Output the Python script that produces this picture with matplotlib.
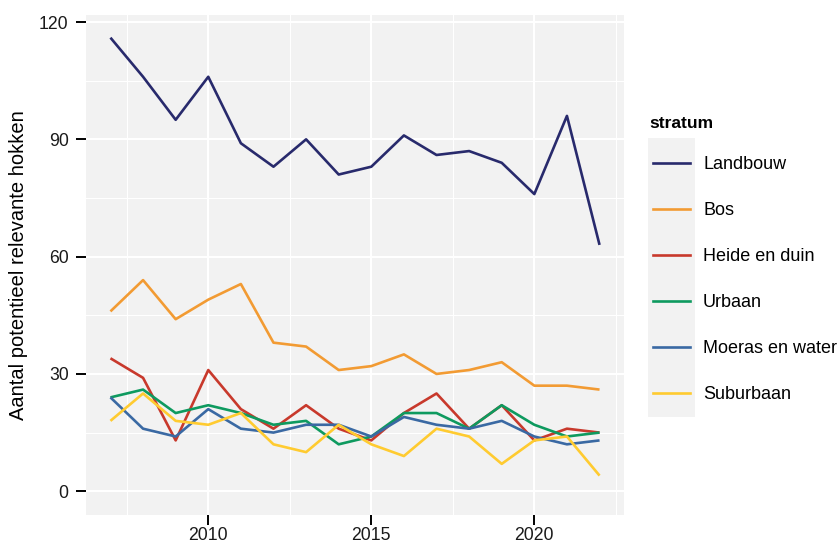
import matplotlib
matplotlib.use("Agg")
import matplotlib.pyplot as plt
from matplotlib.lines import Line2D
from matplotlib.patches import Rectangle
from matplotlib.ticker import MultipleLocator

plt.rcParams['font.family'] = ['Liberation Sans', 'DejaVu Sans']

years = list(range(2007, 2023))

landbouw = [116, 106, 95, 106, 89, 83, 90, 81, 83, 91, 86, 87, 84, 76, 96, 63]
bos = [46, 54, 44, 49, 53, 38, 37, 31, 32, 35, 30, 31, 33, 27, 27, 26]
heide = [34, 29, 13, 31, 21, 16, 22, 16, 13, 20, 25, 16, 22, 13, 16, 15]
urbaan = [24, 26, 20, 22, 20, 17, 18, 12, 14, 20, 20, 16, 22, 17, 14, 15]
moeras = [24, 16, 14, 21, 16, 15, 17, 17, 14, 19, 17, 16, 18, 14, 12, 13]
suburbaan = [18, 25, 18, 17, 20, 12, 10, 17, 12, 9, 16, 14, 7, 13, 14, 4]

names = ['Landbouw', 'Bos', 'Heide en duin', 'Urbaan', 'Moeras en water', 'Suburbaan']
series = [landbouw, bos, heide, urbaan, moeras, suburbaan]
colors = ['#282A6C', '#F29B33', '#C8392C', '#0E9A5F', '#3A69A3', '#FFCB30']

W, H = 838, 542
fig = plt.figure(figsize=(W / 100, H / 100), dpi=100)
ax = fig.add_axes([86 / W, 1 - 514.7 / H, (624 - 86) / W, (514.7 - 15) / H])
ax.set_facecolor('#F2F2F2')

for vals, col in zip(series, colors):
    ax.plot(years, vals, color=col, lw=1.9, solid_capstyle='butt', zorder=3)

ax.set_xlim(2006.25, 2022.75)
ax.set_ylim(-6.0, 121.8)
ax.xaxis.set_major_locator(MultipleLocator(5))
ax.xaxis.set_minor_locator(MultipleLocator(2.5))
ax.yaxis.set_major_locator(MultipleLocator(30))
ax.yaxis.set_minor_locator(MultipleLocator(15))
ax.grid(which='major', color='white', lw=1.5, zorder=1)
ax.grid(which='minor', color='white', lw=0.75, zorder=1)
ax.set_axisbelow(True)
for s in ax.spines.values():
    s.set_visible(False)
ax.tick_params(which='major', length=7.5, width=1.4, color='black',
               labelsize=12.7, labelcolor='#1a1a1a')
ax.tick_params(axis='y', pad=5)
ax.tick_params(axis='x', pad=1)
ax.tick_params(which='minor', length=0)

fig.text(18.5 / W, 1 - 265.5 / H, 'Aantal potentieel relevante hokken',
         rotation=90, ha='center', va='center', fontsize=14.5, color='black')

# legend
fig.text(649 / W, 1 - 124 / H, 'stratum', fontsize=12.6, fontweight='bold',
         ha='left', va='center')
fig.add_artist(Rectangle((648 / W, 1 - 417 / H), 47 / W, 279 / H,
                         transform=fig.transFigure, facecolor='#F2F2F2',
                         edgecolor='none'))
for i, (name, col) in enumerate(zip(names, colors)):
    yy = 1 - (162.7 + 46.1 * i) / H
    fig.add_artist(Line2D([653 / W, 690 / W], [yy, yy], transform=fig.transFigure,
                          color=col, lw=1.9))
    fig.text(703 / W, yy - 1.5 / H, name, fontsize=13, ha='left', va='center',
             color='black')

fig.savefig('out.png', dpi=100)
